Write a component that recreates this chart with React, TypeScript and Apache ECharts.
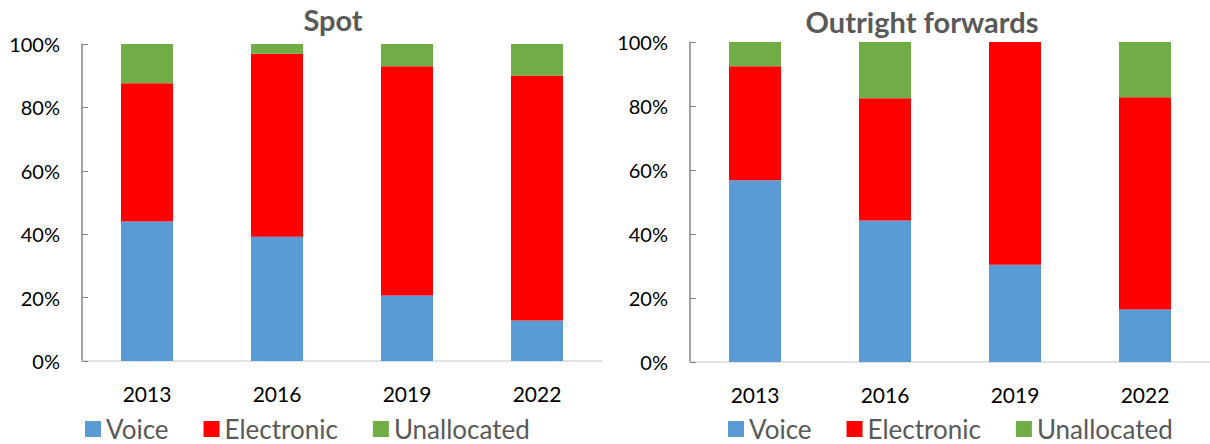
import React, { useEffect, useRef } from "react";
import * as echarts from "echarts";

const years = ["2013", "2016", "2019", "2022"];
const seriesNames = ["Voice", "Electronic", "Unallocated"];
const colors = ["#5b9bd5", "#ff0000", "#70ad47"];

const spotVoice = [44.0, 39.2, 20.7, 12.8];
const spotElectronic = [43.6, 57.7, 72.3, 77.3];
const spotUnallocated = [12.4, 3.1, 7.0, 9.9];

const fwdVoice = [56.8, 44.2, 30.4, 16.4];
const fwdElectronic = [35.6, 38.2, 69.6, 66.3];
const fwdUnallocated = [7.6, 17.6, 0, 17.3];

const yTicks = [0, 20, 40, 60, 80, 100];

const FONT = "Lato, 'Noto Sans', sans-serif";

export default function App() {
  const ref = useRef<HTMLDivElement>(null);
  useEffect(() => {
    if (!ref.current) return;
    const chart = echarts.init(ref.current, null, { renderer: "svg" });
    const grids = [
      { left: 82, top: 44, width: 520, height: 317 },
      { left: 690, top: 42, width: 520, height: 320 },
    ];
    const xAxis = grids.map((_, i) => ({
      type: "category",
      gridIndex: i,
      data: years,
      axisLine: { lineStyle: { color: "#d9d9d9", width: 1.5 } },
      axisTick: { show: false },
      axisLabel: { color: "#000", fontSize: 21, fontFamily: FONT, margin: 22 },
    }));
    const yAxis = grids.map((_, i) => ({
      type: "value",
      gridIndex: i,
      min: yTicks[0],
      max: yTicks[yTicks.length - 1],
      interval: 20,
      axisLine: { show: true, lineStyle: { color: "#868686", width: 1.5 } },
      axisTick: { show: true, inside: true, length: 6, lineStyle: { color: "#868686" } },
      splitLine: { show: false },
      axisLabel: {
        color: "#000",
        fontSize: 20,
        fontFamily: FONT,
        margin: 22,
        formatter: (v: number) => v + "%",
      },
    }));
    const data = [
      [spotVoice, spotElectronic, spotUnallocated],
      [fwdVoice, fwdElectronic, fwdUnallocated],
    ];
    const series: any[] = [];
    data.forEach((set, gi) => {
      set.forEach((vals, si) => {
        series.push({
          type: "bar",
          name: seriesNames[si],
          xAxisIndex: gi,
          yAxisIndex: gi,
          stack: "s" + gi,
          barWidth: 52,
          data: vals,
          itemStyle: { color: colors[si] },
        });
      });
    });
    const legendBase = {
      data: seriesNames,
      itemWidth: 16,
      itemHeight: 16,
      itemGap: 35,
      icon: "rect",
      textStyle: { color: "#595959", fontSize: 26, fontFamily: FONT, padding: [0, 0, 0, 0] },
      top: 411,
    };
    chart.setOption({
      animation: false,
      title: [
        {
          text: "Spot",
          left: 328,
          top: 0,
          textAlign: "center",
          textStyle: { color: "#595959", fontSize: 29, fontWeight: "bold", fontFamily: FONT },
        },
        {
          text: "Outright forwards",
          left: 917,
          top: 2,
          textAlign: "center",
          textStyle: { color: "#595959", fontSize: 29, fontWeight: "bold", fontFamily: FONT },
        },
      ],
      legend: [
        { ...legendBase, left: 80 },
        { ...legendBase, left: 723 },
      ],
      grid: grids,
      xAxis,
      yAxis,
      series,
    });
    return () => chart.dispose();
  }, []);
  return <div ref={ref} style={{ width: 1210, height: 444, position: "absolute", left: 0, top: 0 }} />;
}
